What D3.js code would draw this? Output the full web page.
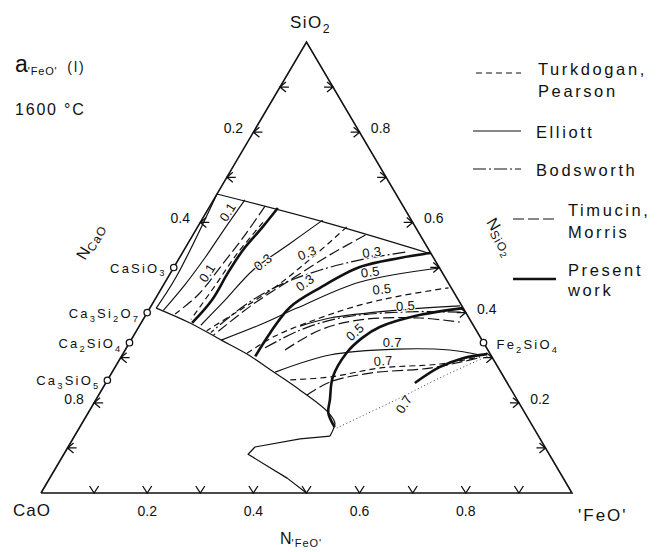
<!DOCTYPE html>
<html><head><meta charset="utf-8">
<script src="https://cdn.jsdelivr.net/npm/d3@7"></script>
<style>
body{margin:0;background:#fff}
svg{display:block}
text{font-family:"Liberation Sans",Arial,sans-serif;fill:#111}
</style>
</head><body>
<svg id="chart" width="662" height="552"></svg>
<script>
// ---- DATA: compositions as [N_FeO, N_SiO2] (N_CaO = 1 - both) ----
const liquidUpper = [[0.000,0.663],[0.235,0.600],[0.470,0.530]];
const liquidLeft  = [[0.000,0.663],[0.015,0.480],[0.012,0.410]];
const liquidLower = [[0.012,0.410],[0.092,0.377],[0.170,0.339],[0.234,0.308],[0.308,0.266],[0.374,0.228],[0.450,0.180],[0.476,0.155],[0.480,0.140],[0.481,0.126]];
const lowerLobe   = [[0.481,0.126],[0.428,0.120],[0.352,0.102],[0.347,0.086],[0.396,0.060],[0.447,0.033],[0.500,0.000]];

const present01 = [[0.130,0.632],[0.122,0.588],[0.111,0.539],[0.108,0.488],[0.108,0.428],[0.096,0.377]];
const present03 = [[0.467,0.532],[0.415,0.521],[0.350,0.501],[0.298,0.455],[0.263,0.412],[0.254,0.355],[0.252,0.303]];
const present05 = [[0.590,0.410],[0.517,0.395],[0.454,0.368],[0.433,0.344],[0.420,0.310],[0.421,0.257],[0.441,0.206],[0.452,0.178],[0.480,0.146]];
const present07 = [[0.582,0.244],[0.611,0.279],[0.645,0.299],[0.686,0.308]];

const elliott01  = [[0.059,0.650],[0.053,0.588],[0.048,0.521],[0.040,0.461],[0.028,0.405]];
const elliott03  = [[0.228,0.605],[0.190,0.550],[0.152,0.494],[0.133,0.428],[0.115,0.372]];
const elliott05a = [[0.170,0.339],[0.226,0.373],[0.277,0.410],[0.367,0.468],[0.501,0.499]];
const elliott05b = [[0.303,0.370],[0.350,0.388],[0.473,0.406],[0.582,0.415]];
const elliott07  = [[0.307,0.268],[0.391,0.306],[0.510,0.319],[0.611,0.317],[0.674,0.306]];

const turk01 = [[0.118,0.600],[0.104,0.530],[0.098,0.460],[0.090,0.385]];
const turk03 = [[0.281,0.590],[0.250,0.523],[0.213,0.457],[0.172,0.406],[0.132,0.360]];
const turk05 = [[0.233,0.310],[0.267,0.348],[0.331,0.388],[0.393,0.417],[0.458,0.437],[0.540,0.455]];
const turk07 = [[0.344,0.251],[0.415,0.257],[0.499,0.277],[0.608,0.286],[0.676,0.302]];

const bods03 = [[0.419,0.534],[0.343,0.517],[0.278,0.494],[0.219,0.461],[0.176,0.417],[0.142,0.356]];
const bods05 = [[0.261,0.322],[0.307,0.361],[0.369,0.388],[0.475,0.401],[0.592,0.401]];

const timu01 = [[0.104,0.636],[0.098,0.572],[0.088,0.506],[0.076,0.439],[0.054,0.397]];
const timu03 = [[0.325,0.572],[0.280,0.528],[0.233,0.472],[0.189,0.417],[0.150,0.350]];
const timu05 = [[0.301,0.317],[0.344,0.361],[0.409,0.384],[0.520,0.388],[0.599,0.379]];
const timu07 = [[0.392,0.217],[0.421,0.246],[0.487,0.266],[0.594,0.277],[0.673,0.299]];

const dotted07 = [[0.485,0.144],[0.517,0.169],[0.571,0.211],[0.623,0.255],[0.690,0.304]];

// iso-activity labels: [text, N_FeO, N_SiO2, angle]
const isoLabels = [
  ["0.1",0.040,0.623,-58],["0.1",0.069,0.488,-58],
  ["0.3",0.162,0.512,-38],["0.3",0.235,0.532,-22],["0.3",0.356,0.534,-8],["0.3",0.264,0.466,-36],
  ["0.5",0.375,0.490,-8],["0.5",0.416,0.452,-6],["0.5",0.479,0.415,-3],["0.5",0.413,0.357,-42],
  ["0.7",0.495,0.333,0],["0.7",0.498,0.293,-4],["0.7",0.585,0.197,-58]
];

const compounds = [
  {name:"CaSiO3",   feo:0,     sio2:0.5,   side:"left"},
  {name:"Ca3Si2O7", feo:0,     sio2:0.4,   side:"left"},
  {name:"Ca2SiO4",  feo:0,     sio2:1/3,   side:"left"},
  {name:"Ca3SiO5",  feo:0,     sio2:0.25,  side:"left"},
  {name:"Fe2SiO4",  feo:2/3,   sio2:1/3,   side:"right"}
];

const leftTicks   = [0.1,0.2,0.3,0.4,0.7,0.8,0.9];   // N_CaO
const rightTicks  = [0.1,0.2,0.3,0.4,0.5,0.6,0.7,0.8,0.9]; // N_SiO2
const bottomTicks = [0.1,0.2,0.3,0.4,0.5,0.6,0.7,0.8,0.9]; // N_FeO
const leftTickLabels   = ["0.2","0.4","0.8"];
const rightTickLabels  = ["0.2","0.4","0.6","0.8"];
const bottomTickLabels = ["0.2","0.4","0.6","0.8"];

const legendNames = [["Turkdogan,","Pearson"],["Elliott"],["Bodsworth"],["Timucin,","Morris"],["Present","work"]];
const legendKeys  = ["turk","elliott","bods","timu","present"];

// ---- SCALES ----
const xS = d3.scaleLinear().domain([0,1]).range([41,572]);
const yS = d3.scaleLinear().domain([0,1]).range([493,42]);
const PX = d => xS(d[0] + d[1]/2);
const PY = d => yS(d[1]);

const styles = {
  bound:   {w:1.2, dash:null},
  elliott: {w:1.15, dash:null},
  turk:    {w:1.2, dash:"6,4"},
  bods:    {w:1.2, dash:"13,3,2,3"},
  timu:    {w:1.2, dash:"11,4"},
  present: {w:2.6, dash:null},
  dotted:  {w:1.0, dash:"1,2.6"}
};

const svg = d3.select("#chart");
const ink = "#111";
const smooth = d3.line().x(PX).y(PY).curve(d3.curveCatmullRom.alpha(0.5));
const straight = d3.line().x(PX).y(PY);

function draw(data, key, gen){
  const st = styles[key];
  svg.append("path").datum(data).attr("d", gen || smooth)
    .attr("fill","none").attr("stroke", key==="dotted" ? "#444" : ink)
    .attr("stroke-width", st.w).attr("stroke-dasharray", st.dash)
    .attr("stroke-linecap","butt").attr("stroke-linejoin","round");
}

// triangle
svg.append("path").datum([[0,0],[1,0],[0,1],[0,0]]).attr("d", straight)
  .attr("fill","none").attr("stroke",ink).attr("stroke-width",1.6).attr("stroke-linejoin","miter");

// phase boundaries
draw(liquidUpper,"bound");
draw(liquidLeft,"bound");
draw(liquidLower,"bound");
draw(lowerLobe,"bound",straight);

// iso-activity lines
[[elliott01,"elliott"],[elliott03,"elliott"],[elliott05a,"elliott"],[elliott05b,"elliott"],[elliott07,"elliott"],
 [turk01,"turk"],[turk03,"turk"],[turk05,"turk"],[turk07,"turk"],
 [bods03,"bods"],[bods05,"bods"],
 [timu01,"timu"],[timu03,"timu"],[timu05,"timu"],[timu07,"timu"],
 [dotted07,"dotted"],
 [present01,"present"],[present03,"present"],[present05,"present"],[present07,"present"]
].forEach(([d,k]) => draw(d,k));

// iso labels
svg.append("g").selectAll("text").data(isoLabels).join("text")
  .attr("transform", d => `translate(${PX([d[1],d[2]])},${PY([d[1],d[2]])}) rotate(${d[3]})`)
  .attr("text-anchor","middle").attr("dy","0.35em")
  .attr("font-size",13).attr("letter-spacing",0.3)
  .style("paint-order","stroke").attr("stroke","#fff").attr("stroke-width",2)
  .text(d => d[0]);

// ticks
const tk = svg.append("g").attr("fill","none").attr("stroke",ink).attr("stroke-width",1.3);
leftTicks.forEach(c => {
  const p = [0, 1-c], x = PX(p), y = PY(p);
  tk.append("path").attr("d",`M${x},${y}H${x+9}M${x+6},${y-5}L${x},${y}L${x+6},${y+5}`);
});
rightTicks.forEach(s => {
  const p = [1-s, s], x = PX(p), y = PY(p);
  tk.append("path").attr("d",`M${x},${y}H${x-9}M${x-6},${y-5}L${x},${y}L${x-6},${y+5}`);
});
bottomTicks.forEach(f => {
  const p = [f, 0], x = PX(p), y = PY(p);
  tk.append("path").attr("d",`M${x-4.5},${y-7}L${x},${y}L${x+4.5},${y-7}`);
});

// tick labels
leftTickLabels.forEach(t => {
  const p = [0, 1-(+t)];
  svg.append("text").attr("x",PX(p)-20).attr("y",PY(p)-4).attr("text-anchor","middle").attr("dy","0.35em").attr("font-size",14).text(t);
});
rightTickLabels.forEach(t => {
  const p = [1-(+t), +t];
  svg.append("text").attr("x",PX(p)+21).attr("y",PY(p)-4).attr("text-anchor","middle").attr("dy","0.35em").attr("font-size",14).text(t);
});
bottomTickLabels.forEach(t => {
  const p = [+t, 0];
  svg.append("text").attr("x",PX(p)).attr("y",PY(p)+18).attr("text-anchor","middle").attr("dy","0.35em").attr("font-size",14).text(t);
});

// chemical-formula text helper
function chem(sel, str, size){
  const parts = str.match(/\d+|[^\d]+/g);
  let sub = false;
  parts.forEach(p => {
    const t = sel.append("tspan").text(p);
    if (/^\d+$/.test(p)) { t.attr("font-size", size*0.72).attr("dy", size*0.3); sub = true; }
    else if (sub) { t.attr("dy", -size*0.3); sub = false; }
  });
  return sel;
}

// compounds
compounds.forEach(c => {
  const x = PX([c.feo,c.sio2]), y = PY([c.feo,c.sio2]);
  const t = svg.append("text").attr("font-size",13).attr("letter-spacing",2.2)
    .attr("y", y+5);
  if (c.side === "left") t.attr("x", x-7).attr("text-anchor","end");
  else t.attr("x", x+13).attr("y", y+6);
  chem(t, c.name, 13);
  svg.append("circle").attr("cx",x).attr("cy",y).attr("r",3.2)
    .attr("fill","#fff").attr("stroke",ink).attr("stroke-width",1.3);
});

// vertex labels
chem(svg.append("text").attr("x",290).attr("y",28).attr("font-size",17).attr("letter-spacing",1.5), "SiO2", 17);
svg.append("text").attr("x",13).attr("y",516).attr("font-size",17).attr("letter-spacing",1).text("CaO");
svg.append("text").attr("x",578).attr("y",521).attr("font-size",17).attr("letter-spacing",2).text("'FeO'");

// axis titles
const nb = svg.append("text").attr("x",280).attr("y",544).attr("font-size",16);
nb.append("tspan").text("N");
nb.append("tspan").attr("font-size",11).attr("dy",3).attr("letter-spacing",1).text("'FeO'");

const nl = svg.append("text").attr("transform","translate(95,244) rotate(-59.5)").attr("text-anchor","middle").attr("font-size",16);
nl.append("tspan").text("N");
nl.append("tspan").attr("font-size",12).attr("dy",3).attr("letter-spacing",1).text("CaO");

const nr = svg.append("text").attr("transform","translate(486,222) rotate(59.5)").attr("font-size",16);
nr.append("tspan").text("N");
nr.append("tspan").attr("font-size",12).attr("dy",3).attr("letter-spacing",1).text("SiO");
nr.append("tspan").attr("font-size",9).attr("dy",2).text("2");

// title
const tt = svg.append("text").attr("x",15).attr("y",72);
tt.append("tspan").attr("font-size",23).text("a");
tt.append("tspan").attr("font-size",11).attr("dy",3).attr("letter-spacing",0.8).text("'FeO'");
tt.append("tspan").attr("font-size",14).attr("dy",-3).attr("letter-spacing",2).attr("dx",4).text(" (l)");
svg.append("text").attr("x",15).attr("y",115).attr("font-size",16).attr("letter-spacing",1.8).text("1600 °C");

// legend
const legendLayout = [
  {x1:476,x2:521,ly:73, tx:538, ty:[75,97]},
  {x1:473,x2:521,ly:131,tx:536, ty:[138]},
  {x1:473,x2:521,ly:169,tx:536, ty:[176]},
  {x1:513,x2:556,ly:219,tx:568, ty:[216,238]},
  {x1:513,x2:556,ly:279,tx:568, ty:[276,296]}
];
legendKeys.forEach((k,i) => {
  const L = legendLayout[i], st = styles[k];
  svg.append("line").attr("x1",L.x1).attr("x2",L.x2).attr("y1",L.ly).attr("y2",L.ly)
    .attr("stroke",ink).attr("stroke-width",st.w).attr("stroke-dasharray",st.dash);
  legendNames[i].forEach((s,j) => {
    svg.append("text").attr("x",L.tx).attr("y",L.ty[j]).attr("font-size",16.5).attr("letter-spacing",2.6).text(s);
  });
});
</script>
</body></html>
